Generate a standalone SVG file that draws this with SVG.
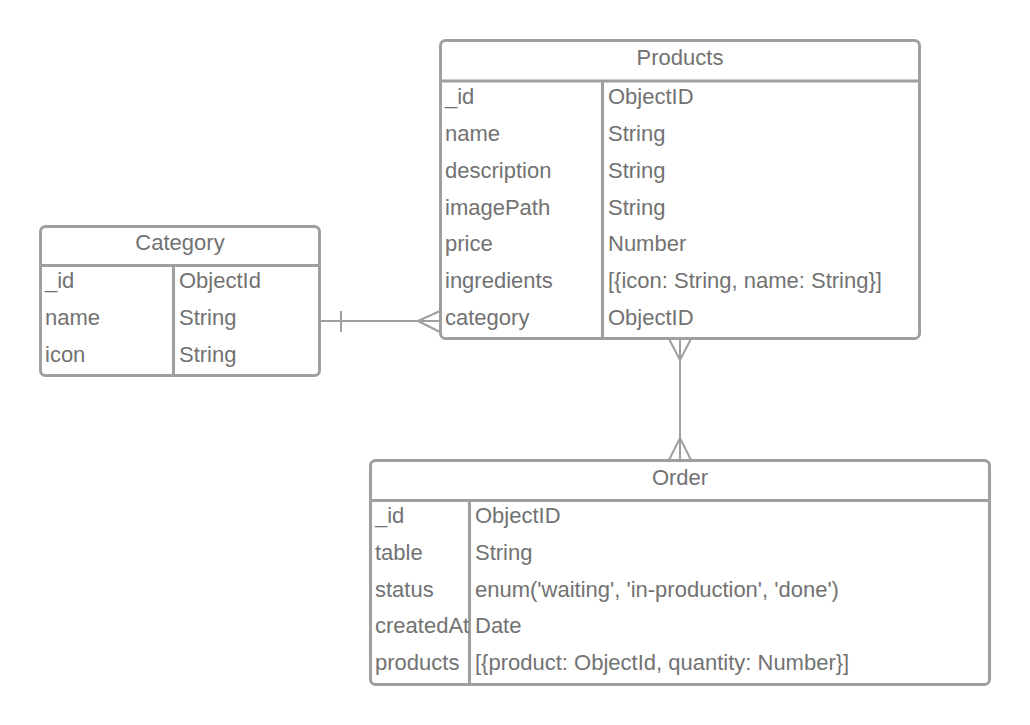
<svg xmlns="http://www.w3.org/2000/svg" width="1030" height="725" viewBox="0 0 1030 725">
<style>
.box{fill:#fff;stroke:#9f9f9f;stroke-width:3}
.ln{stroke:#9f9f9f;stroke-width:3;fill:none}
.cn{stroke:#9f9f9f;stroke-width:2;fill:none}
text{font-family:"Liberation Sans",Arial,sans-serif;font-size:22px;fill:#727272}
.h{text-anchor:middle}
</style>
<rect width="1030" height="725" fill="#fff"/>
<g id="connectors">
<path class="cn" d="M320,321 H440 M341,311 V332 M418,321 L440,311 M418,321 L440,332"/>
<path class="cn" d="M680,339 V460 M669,339 L680,360 L691,339 M669,460 L680,438 L691,460"/>
</g>
<g id="category">
<rect class="box" x="40.5" y="226.5" width="279" height="149" rx="5"/>
<path class="ln" d="M40,265.5 H320 M173.5,265.5 V376"/>
<text class="h" x="180" y="250">Category</text>
<text x="45" y="288.3">_id</text><text x="179" y="288.3">ObjectId</text>
<text x="45" y="325">name</text><text x="179" y="325">String</text>
<text x="45" y="361.7">icon</text><text x="179" y="361.7">String</text>
</g>
<g id="products">
<rect class="box" x="440.5" y="40.5" width="479" height="298" rx="5"/>
<path class="ln" d="M440,81 H920 M602.5,81 V339"/>
<text class="h" x="680" y="64.5">Products</text>
<text x="445" y="104">_id</text><text x="608" y="104">ObjectID</text>
<text x="445" y="140.8">name</text><text x="608" y="140.8">String</text>
<text x="445" y="177.7">description</text><text x="608" y="177.7">String</text>
<text x="445" y="214.5">imagePath</text><text x="608" y="214.5">String</text>
<text x="445" y="251.3">price</text><text x="608" y="251.3">Number</text>
<text x="445" y="288.2">ingredients</text><text x="608" y="288.2">[{icon: String, name: String}]</text>
<text x="445" y="325">category</text><text x="608" y="325">ObjectID</text>
</g>
<g id="order">
<rect class="box" x="370.5" y="460.5" width="619" height="224" rx="5"/>
<path class="ln" d="M370,500.5 H990 M469.5,500.5 V685"/>
<text class="h" x="680" y="485">Order</text>
<text x="375" y="523.3">_id</text><text x="475" y="523.3">ObjectID</text>
<text x="375" y="560">table</text><text x="475" y="560">String</text>
<text x="375" y="596.7">status</text><text x="475" y="596.7">enum('waiting', 'in-production', 'done')</text>
<text x="375" y="633.3">createdAt</text><text x="475" y="633.3">Date</text>
<text x="375" y="670">products</text><text x="475" y="670">[{product: ObjectId, quantity: Number}]</text>
</g>
</svg>
